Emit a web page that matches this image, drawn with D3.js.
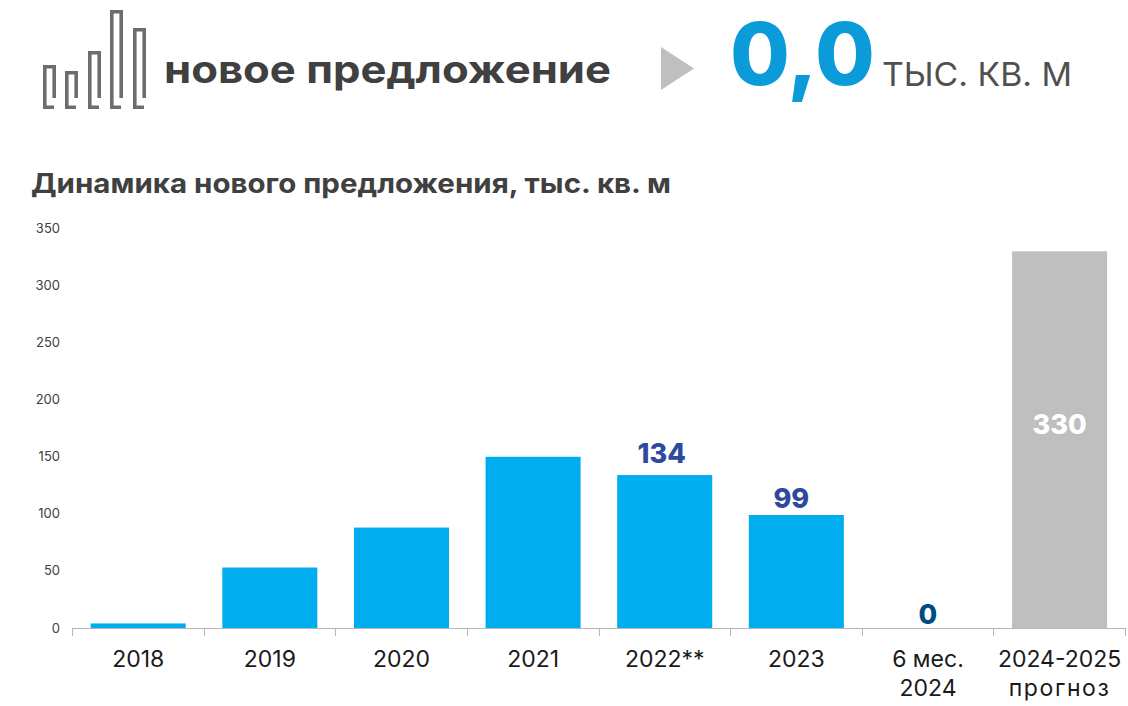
<!DOCTYPE html>
<html><head><meta charset="utf-8">
<script src="https://cdn.jsdelivr.net/npm/d3@7"></script>
<style>html,body{margin:0;padding:0;background:#fff}svg{display:block}text{font-family:Inter,"Noto Sans",sans-serif}</style>
</head><body><svg id="c" width="1128" height="706"></svg>
<script>
const categories=["2018","2019","2020","2021","2022**","2023","6 мес.|2024","2024-2025|прогноз"];
const values=[4,53,88,150,134,99,0,330];
const barColors=["#00AEEF","#00AEEF","#00AEEF","#00AEEF","#00AEEF","#00AEEF","#00AEEF","#BFBFBF"];
const barLabels=[null,null,null,null,"134","99","0","330"];
const labelColors=[null,null,null,null,"#2E4A9E","#2E4A9E","#004B80","#FFFFFF"];
const yTicks=[0,50,100,150,200,250,300,350];
const iconBars=[[44.8,66.8,54.2,98,107.2,54],[66.8,72.8,76.2,98,107.2,76],[89.8,52.8,99.2,98,107.2,99],[111.8,11.8,121.2,98,107.2,121],[134.8,29.8,144.2,98,107.2,144]];
const svg=d3.select("#c");
const x=d3.scaleBand().domain(categories).range([72.4,1125.4]).paddingInner(0.278).paddingOuter(0.139);
const y=d3.scaleLinear().domain([0,350]).range([628,228.5]);
const edges=categories.map((c,i)=>72+i*x.step()).concat([1125]);

// header icon
svg.append("g").selectAll("path").data(iconBars).join("path")
 .attr("fill","none").attr("stroke","#6D6D6D").attr("stroke-width",3.6)
 .attr("d",d=>`M${d[2]},${d[3]}V${d[1]}H${d[0]}V${d[4]}H${d[5]}`);
svg.append("text").attr("x",164).attr("y",83).attr("font-size",38).attr("font-weight",700).attr("fill","#404040").attr("textLength",447).attr("lengthAdjust","spacingAndGlyphs").text("новое предложение");
svg.append("path").attr("d","M661,47L694,68.5L661,90Z").attr("fill","#BFBFBF");
svg.append("text").attr("x",730).attr("y",85).attr("font-size",86).attr("font-weight",800).attr("fill","#0A9BD8").attr("textLength",145).attr("lengthAdjust","spacingAndGlyphs").text("0,0");
svg.append("text").attr("x",882).attr("y",86).attr("font-size",33).attr("fill","#505050").attr("textLength",190).attr("lengthAdjust","spacingAndGlyphs").text("ТЫС. КВ. М");
svg.append("text").attr("x",31).attr("y",193).attr("font-size",27).attr("font-weight",700).attr("fill","#404040").attr("textLength",640).attr("lengthAdjust","spacingAndGlyphs").text("Динамика нового предложения, тыс. кв. м");

// y labels
svg.append("g").selectAll("text").data(yTicks).join("text")
 .attr("x",60).attr("y",d=>y(d)+4.5).attr("text-anchor","end").attr("font-size",13).attr("fill","#404040").text(d=>d);

// bars
svg.append("g").selectAll("rect").data(values).join("rect")
 .attr("x",(d,i)=>x(categories[i])).attr("width",x.bandwidth())
 .attr("y",d=>y(d)).attr("height",d=>y(0)-y(d)).attr("fill",(d,i)=>barColors[i]);

// x axis line and ticks
const ax=svg.append("g").attr("stroke","#B5B5B5").attr("stroke-width",1);
ax.append("line").attr("x1",72).attr("x2",1125).attr("y1",y(0)+.5).attr("y2",y(0)+.5);
ax.selectAll("line.t").data(edges).join("line").attr("class","t")
 .attr("x1",d=>Math.round(d)+.5).attr("x2",d=>Math.round(d)+.5).attr("y1",y(0)).attr("y2",y(0)+8);

// category labels
const cat=svg.append("g").selectAll("text").data(categories).join("text")
 .attr("text-anchor","middle").attr("font-size",23).attr("fill","#1A1A1A")
 .attr("x",d=>x(d)+x.bandwidth()/2).attr("y",666.5);
cat.selectAll("tspan").data(d=>d.split("|")).join("tspan")
 .attr("x",function(){return +this.parentNode.getAttribute("x")})
 .attr("letter-spacing",d=>d==="прогноз"?1.6:null)
 .attr("dy",(d,i)=>i?29:0).text(d=>d);

// value labels
const lab=categories.map((c,i)=>({c,v:values[i],t:barLabels[i],col:labelColors[i]})).filter(d=>d.t);
const labelNudge=d=>d.v>300?[0,-15]:d.v===0?[0,8]:d.v===99?[-5,5]:[-3,0];
svg.append("g").selectAll("text").data(lab).join("text")
 .attr("text-anchor","middle").attr("font-size",27).attr("font-weight",800)
 .attr("fill",d=>d.col).attr("x",d=>x(d.c)+x.bandwidth()/2+labelNudge(d)[0])
 .attr("y",d=>(d.v>300?y(d.v/2)+9.5:y(d.v)-12)+labelNudge(d)[1]).text(d=>d.t);
</script></body></html>
